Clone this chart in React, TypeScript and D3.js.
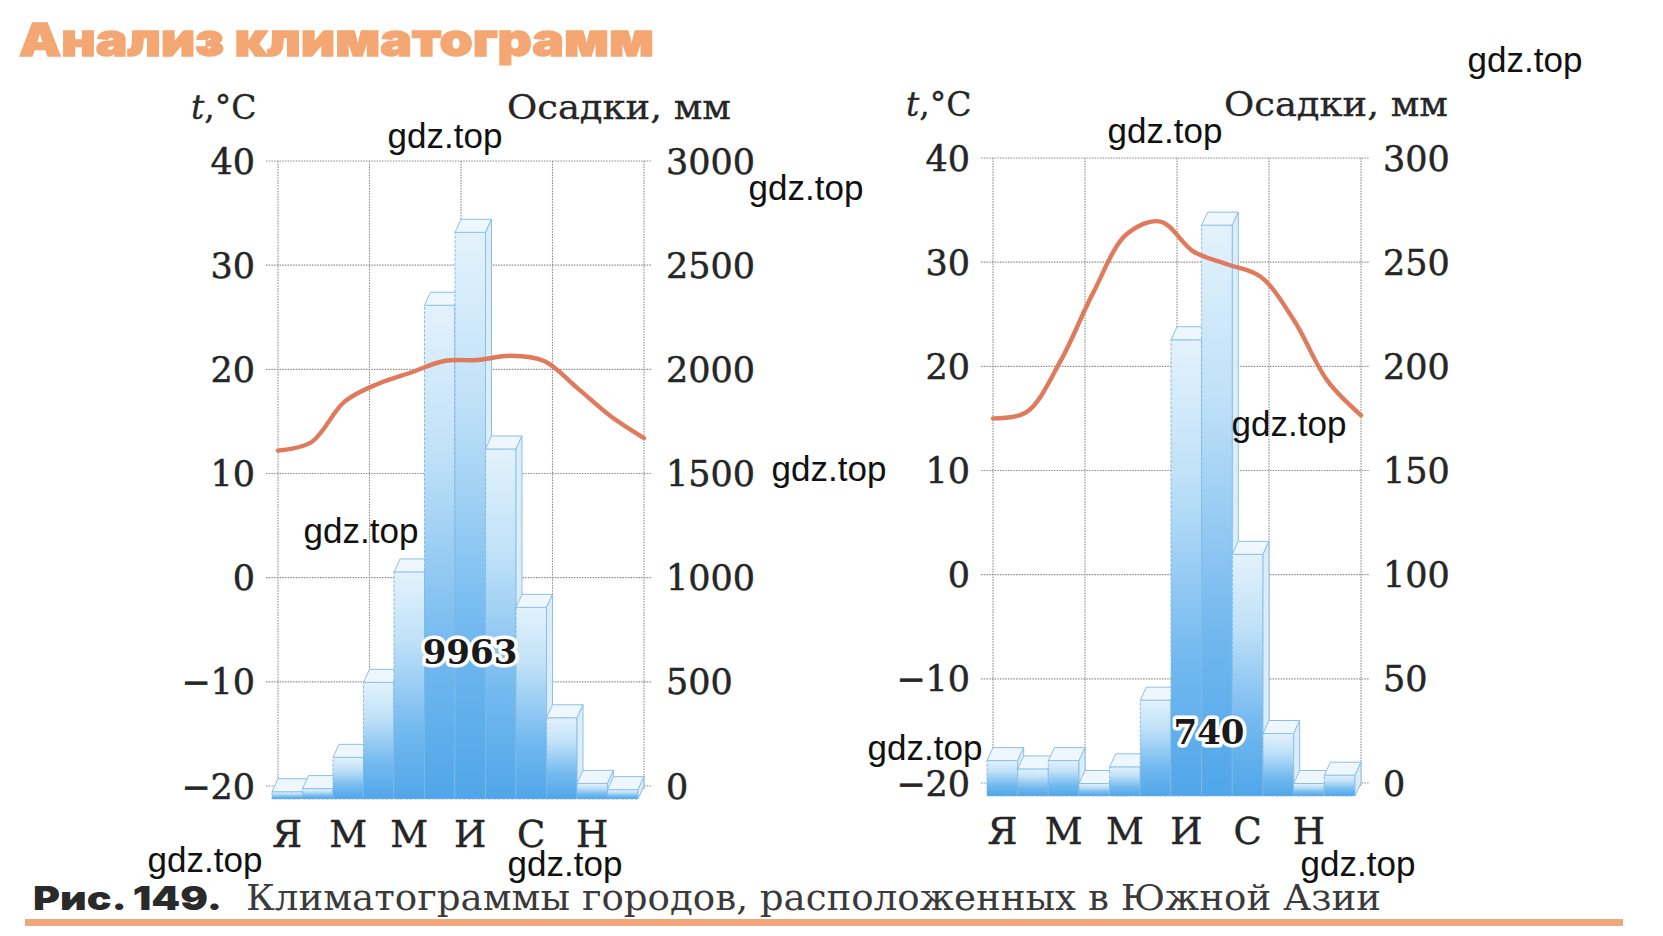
import React from "react";
import * as d3 from "d3";

// ---------- data ----------
const MONTHS = ["Я", "Ф", "М", "А", "М", "И", "И", "А", "С", "О", "Н", "Д"];
const TEMP_TICKS = [40, 30, 20, 10, 0, -10, -20];

// Left chart (total 9963 mm)
const PRECIP_A = [35, 50, 200, 560, 1090, 2370, 2720, 1680, 920, 390, 75, 45];
const TEMP_A = [12.2, 13.0, 16.9, 18.6, 19.7, 20.8, 20.9, 21.3, 20.8, 18.2, 15.5, 13.4];
const PRECIP_TICKS_A = [3000, 2500, 2000, 1500, 1000, 500, 0];
const TOTAL_A = "9963";

// Right chart (total 740 mm)
const PRECIP_B = [17, 13, 17, 6, 14, 46, 219, 274, 116, 30, 6, 10];
const TEMP_B = [15.0, 15.6, 20.4, 27.1, 32.7, 33.9, 31.0, 29.8, 28.6, 24.4, 18.6, 15.3];
const PRECIP_TICKS_B = [300, 250, 200, 150, 100, 50, 0];
const TOTAL_B = "740";

const TITLE = "Анализ климатограмм";
const CAPTION_BOLD = "Рис. 149.";
const CAPTION = "Климатограммы городов, расположенных в Южной Азии";
const WATERMARK = "gdz.top";
const WATERMARK_POS: [number, number][] = [
  [445, 135], [806, 187], [1525, 59], [1165, 130], [361, 530], [829, 468],
  [1289, 423], [925, 747], [205, 859], [565, 863], [1358, 863],
];

const SERIF = "'DejaVu Serif', serif";
const TEXT = "#262626";

type Cfg = {
  left: number; right: number; top: number; bottom: number;
  totalX: number; totalY: number;
};

function Chart({ cfg, precip, temp, pTicks, total, id }: {
  cfg: Cfg; precip: number[]; temp: number[]; pTicks: number[]; total: string; id: string;
}) {
  const idx = d3.range(12);
  const x = d3.scaleBand<number>().domain(idx).range([cfg.left, cfg.right]).padding(0);
  const xp = d3.scalePoint<number>().domain(idx).range([cfg.left, cfg.right]);
  const yT = d3.scaleLinear().domain([-20, 40]).range([cfg.bottom, cfg.top]);
  const yP = d3.scaleLinear().domain([0, d3.max(pTicks) as number]).range([cfg.bottom, cfg.top]);
  const bw = x.bandwidth();
  const dx = 6, dy = 13;

  const line = d3.line<number>()
    .x((_, i) => xp(i) as number)
    .y((d) => yT(d))
    .curve(d3.curveCatmullRom.alpha(0.5));

  const vGrid = [0, 3, 6, 9, 12].map((i) => cfg.left + i * bw);

  return (
    <g>
      <defs>
        <linearGradient id={`front-${id}`} x1="0" y1="0" x2="0" y2="1">
          <stop offset="0" stopColor="#e3f2fc" />
          <stop offset="0.3" stopColor="#c0e1f8" />
          <stop offset="0.7" stopColor="#72b9ef" />
          <stop offset="1" stopColor="#50a6e9" />
        </linearGradient>
      </defs>
      {/* grid */}
      {TEMP_TICKS.map((t) => (
        <line key={"h" + t} x1={cfg.left - 12} x2={cfg.right + 8} y1={yT(t)} y2={yT(t)}
          stroke="#8c8c8c" strokeWidth={1.1} strokeDasharray="1.5,1.2" />
      ))}
      {vGrid.map((gx, i) => (
        <line key={"v" + i} x1={gx} x2={gx} y1={yT(40)} y2={yT(-20) + 4}
          stroke="#8c8c8c" strokeWidth={1.1} strokeDasharray="1.5,1.2" />
      ))}
      {/* bars */}
      {precip.map((v, i) => {
        const x0 = (x(i) as number) - dx;
        const x1 = x0 + bw;
        const yTop = yP(v) + dy;
        const yBase = yP(0) + dy;
        return (
          <g key={"b" + i}>
            <rect x={x0} y={yTop} width={bw} height={yBase - yTop}
              fill={`url(#front-${id})`} stroke="#7fb6e2" strokeWidth={0.9} strokeDasharray="3,1.5" />
            <polygon points={`${x0},${yTop} ${x1},${yTop} ${x1 + dx},${yTop - dy} ${x0 + dx},${yTop - dy}`}
              fill="#eef7fd" stroke="#8cc0e7" strokeWidth={1} />
            <polygon points={`${x1},${yTop} ${x1 + dx},${yTop - dy} ${x1 + dx},${yBase - dy} ${x1},${yBase}`}
              fill="#dcedfa" stroke="#8cc0e7" strokeWidth={1} />
          </g>
        );
      })}
      {/* temperature */}
      <path d={line(temp) as string} fill="none" stroke="#e07a5c" strokeWidth={4.4}
        strokeLinejoin="round" strokeLinecap="round" />
      {/* tick labels */}
      {TEMP_TICKS.map((t) => (
        <text key={"tl" + t} x={cfg.left - 23} y={yT(t)} dy="0.36em" textAnchor="end"
          fontFamily={SERIF} fontSize={35} fill={TEXT} stroke={TEXT} strokeWidth={0.5}>
          {t < 0 ? "\u2212" + Math.abs(t) : String(t)}
        </text>
      ))}
      {pTicks.map((p) => (
        <text key={"pl" + p} x={cfg.right + 22} y={yP(p)} dy="0.36em" textAnchor="start"
          fontFamily={SERIF} fontSize={35} fill={TEXT} stroke={TEXT} strokeWidth={0.5}>
          {p}
        </text>
      ))}
      {/* month labels */}
      {MONTHS.map((m, i) => i % 2 === 0 ? (
        <text key={"m" + i} x={(x(i) as number) - dx + bw / 2} y={cfg.bottom + 61}
          textAnchor="middle" fontFamily={SERIF} fontSize={37} fill={TEXT} stroke={TEXT} strokeWidth={0.4}>{m}</text>
      ) : null)}
      {/* axis titles */}
      <text x={cfg.left - 87} y={cfg.top - 42} fontFamily={SERIF} fontSize={33} fill={TEXT}
        stroke={TEXT} strokeWidth={0.3}>
        <tspan fontStyle="italic">t</tspan>,°C
      </text>
      <text x={cfg.right + 87} y={cfg.top - 42} textAnchor="end" fontFamily={SERIF} fontSize={33} fill={TEXT}
        stroke={TEXT} strokeWidth={0.3} textLength={224} lengthAdjust="spacingAndGlyphs">
        Осадки, мм
      </text>
      {/* total */}
      <text x={cfg.totalX} y={cfg.totalY} dy="0.36em" textAnchor="middle" fontFamily={SERIF}
        fontWeight="bold" fontSize={34} fill="#1a1a1a" stroke="#ffffff" strokeWidth={7}
        strokeLinejoin="round" paintOrder="stroke">{total}</text>
    </g>
  );
}

export default function App() {
  const cfgA: Cfg = { left: 278, right: 644, top: 161, bottom: 786, totalX: 470, totalY: 652 };
  const cfgB: Cfg = { left: 993, right: 1361, top: 158, bottom: 783, totalX: 1209, totalY: 732 };
  return (
    <svg width={1663} height={936} viewBox="0 0 1663 936"
      style={{ position: "fixed", left: 0, top: 0, background: "#fff" }}>
      <rect x={0} y={0} width={1663} height={936} fill="#fff" />
      <text x={19} y={56} fontFamily="Inter, 'Open Sans', Lato, sans-serif" fontWeight={900}
        fontSize={45} fill="#f4a772" stroke="#f4a772" strokeWidth={1.4}
        textLength={635} lengthAdjust="spacingAndGlyphs">{TITLE}</text>
      <Chart cfg={cfgA} precip={PRECIP_A} temp={TEMP_A} pTicks={PRECIP_TICKS_A} total={TOTAL_A} id="a" />
      <Chart cfg={cfgB} precip={PRECIP_B} temp={TEMP_B} pTicks={PRECIP_TICKS_B} total={TOTAL_B} id="b" />
      {/* caption */}
      <text x={33} y={910} fontFamily="Inter, 'Open Sans', sans-serif" fontWeight={900} fontSize={33}
        fill="#2a2a2a" textLength={189} lengthAdjust="spacingAndGlyphs">{CAPTION_BOLD}</text>
      <text x={246} y={910} fontFamily={SERIF} fontSize={35} fill="#3a3a3a"
        textLength={1135} lengthAdjust="spacingAndGlyphs">{CAPTION}</text>
      <rect x={25} y={919} width={1598} height={7} fill="#f2a67c" />
      {/* watermarks */}
      {WATERMARK_POS.map(([wx, wy], i) => (
        <text key={"w" + i} x={wx} y={wy} textAnchor="middle" dominantBaseline="central"
          fontFamily="'Liberation Sans', Arial, sans-serif" fontSize={35} fill="#111">{WATERMARK}</text>
      ))}
    </svg>
  );
}
